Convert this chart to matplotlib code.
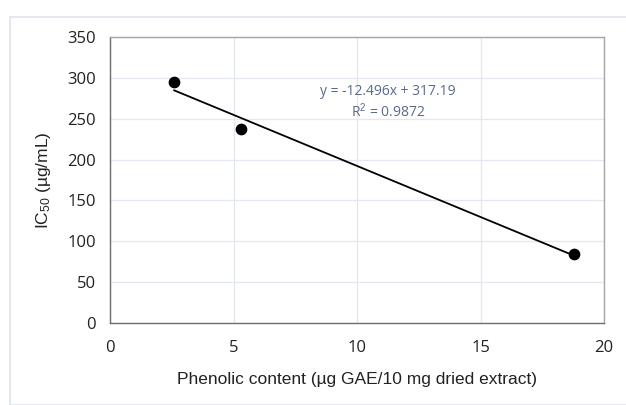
import matplotlib
matplotlib.use("Agg")
import matplotlib.pyplot as plt
from matplotlib.patches import Rectangle
import numpy as np

phenolic = [2.6, 5.3, 18.8]
ic50 = [295, 237, 84]
slope = -12.496
intercept = 317.19
r2 = 0.9872
xticks = [0, 5, 10, 15, 20]
yticks = [0, 50, 100, 150, 200, 250, 300, 350]

plt.rcParams['mathtext.fontset'] = 'custom'
plt.rcParams['mathtext.rm'] = 'Liberation Sans'
plt.rcParams['mathtext.it'] = 'Liberation Sans'

fig = plt.figure(figsize=(6.26, 4.05), dpi=100)
fig.patches.append(Rectangle((10/626, 0), 1, (405-17)/405, transform=fig.transFigure,
                             fill=False, edgecolor='#dfe3ea', linewidth=1.2))
ax = fig.add_axes([110/626, (405-323)/405, (604-110)/626, (323-37)/405])

ax.set_xlim(0, 20)
ax.set_ylim(0, 350)
ax.set_xticks(xticks)
ax.set_yticks(yticks)
ax.grid(True, color='#e3e7ef', linewidth=0.9)
ax.set_axisbelow(True)
for s in ['top', 'right']:
    ax.spines[s].set_color('#a6a6a6')
for s in ['left', 'bottom']:
    ax.spines[s].set_color('#6e6e6e')
for s in ax.spines.values():
    s.set_linewidth(1.0)
ax.tick_params(length=0, pad=12, labelsize=12, labelcolor='#222222')
for lab in ax.get_xticklabels() + ax.get_yticklabels():
    lab.set_family('Open Sans')
ax.tick_params(axis='y', pad=10)

xs = np.array([min(phenolic), max(phenolic)])
ax.plot(xs, slope * xs + intercept, color='black', linewidth=1.3)
ax.scatter(phenolic, ic50, s=55, color='black', zorder=3)

ax.text(0.563, 0.808, f"y = {slope}x + {intercept}", transform=ax.transAxes,
        color='#5a6a8a', fontsize=10, family='Open Sans', ha='center', va='center')
ax.text(0.563, 0.738, f"R$^2$ = {r2}", transform=ax.transAxes,
        color='#5a6a8a', fontsize=10, family='Open Sans', ha='center', va='center')

ax.set_xlabel("Phenolic content (µg GAE/10 mg dried extract)", family='Liberation Sans',
              fontsize=12.5, labelpad=12, color='#222222')
ax.set_ylabel("IC$_{50}$ (µg/mL)", family='Liberation Sans', fontsize=12.5,
              labelpad=10, color='#222222')

fig.savefig("out.png", dpi=100)
